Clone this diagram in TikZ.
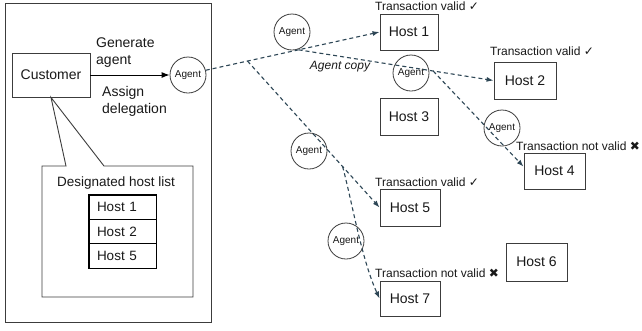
\documentclass[tikz,border=0pt]{standalone}
\usepackage{fontspec}
\setmainfont{Liberation Sans}
\newfontfamily\symfont{DejaVu Sans}
\usetikzlibrary{calc,arrows.meta}
\definecolor{boxc}{RGB}{60,60,60}
\definecolor{dashc}{RGB}{45,70,85}
\definecolor{txt}{RGB}{25,25,25}
\begin{document}
\begin{tikzpicture}[x=1pt,y=-1pt,
  hostbox/.style={draw=boxc, line width=0.9pt, minimum height=36pt, inner sep=0pt, font=\fontsize{14}{16}\selectfont, text=txt},
  agentnode/.style={circle, draw=boxc, line width=0.8pt, minimum size=36pt, inner sep=0pt, font=\fontsize{10}{12}\selectfont, text=txt},
  flow/.style={dashc, line width=1.1pt, dash pattern=on 4pt off 3pt, -{Latex[length=7pt,width=5pt]}},
  status/.style={font=\fontsize{12}{14}\selectfont, text=txt, anchor=west, inner sep=0pt},
  lbl/.style={font=\fontsize{14}{17}\selectfont, text=txt, align=left, anchor=west, inner sep=0pt},
  tcell/.style={draw=black, line width=0.9pt, minimum width=67pt, minimum height=24.33pt, inner xsep=8pt, inner ysep=0pt, text width=51pt, align=left, font=\fontsize{13.5}{16}\selectfont, text=txt}
]
\useasboundingbox (0,0) rectangle (642,330);
\fill[white] (0,0) rectangle (642,330);

% customer container
\draw[boxc, line width=1pt] (5,3) rectangle (211,322);
\node[hostbox, minimum width=78pt, minimum height=44pt] (cust) at (51,75) {Customer};
\node[agentnode] (agentA) at (188,75) {Agent};
\draw[black, line width=1pt, -{Latex[length=8pt,width=6pt]}] (cust) -- (agentA);
\node[lbl] (gen) at (96,53) {Generate\\agent};
\node[lbl] (asg) at (102,101) {Assign\\delegation};

% callout with designated host list
\draw[boxc, line width=0.9pt] (66,166) -- (cust.south) -- (104,166) -- (193,166) -- (193,297) -- (42,297) -- (42,166) -- cycle;
\node[font=\fontsize{13.5}{16}\selectfont, text=txt] (dhl) at (116,183) {Designated host list};
\node[tcell] (t1) at (122.5,207.2) {Host 1};
\node[tcell] (t2) at (122.5,231.5) {Host 2};
\node[tcell] (t3) at (122.5,255.8) {Host 5};
\draw[black, line width=1.8pt] (t1.north west) rectangle (t3.south east);

% hosts
\node[hostbox, minimum width=58pt] (host1) at (409,32) {Host 1};
\node[hostbox, minimum width=62pt, minimum height=37pt] (host2) at (525,80.5) {Host 2};
\node[hostbox, minimum width=58pt, minimum height=37pt] (host3) at (409,116.5) {Host 3};
\node[hostbox, minimum width=61pt] (host4) at (554.5,171) {Host 4};
\node[hostbox, minimum width=60pt, minimum height=37pt] (host5) at (410,207.5) {Host 5};
\node[hostbox, minimum width=61pt, minimum height=38pt] (host6) at (536.5,262) {Host 6};
\node[hostbox, minimum width=60pt, minimum height=35pt] (host7) at (410,298.5) {Host 7};

% status labels
\node[status] (s1) at (375,6) {Transaction valid {\symfont ✓}};
\node[status] (s2) at (490,51) {Transaction valid {\symfont ✓}};
\node[status] (s4) at (516,146) {Transaction not valid {\symfont ✖}};
\node[status] (s5) at (375,182) {Transaction valid {\symfont ✓}};
\node[status] (s7) at (375,273) {Transaction not valid {\symfont ✖}};

% agents along the routes
\node[agentnode] (agentB) at (292,32) {Agent};
\node[agentnode] (agentC) at (411,73) {Agent};
\node[agentnode] (agentD) at (502,128) {Agent};
\node[agentnode] (agentE) at (309,151) {Agent};
\node[agentnode] (agentF) at (346,241) {Agent};
\node[font=\fontsize{12}{14}\selectfont\itshape, text=txt] (copy) at (340,67) {Agent copy};

% routes
\draw[flow] (agentA.15) -- (host1.west);
\coordinate (b3) at ($(agentA.15)!0.24!(host1.west)$);
\coordinate (b1) at ($(agentA.15)!0.534!(host1.west)$);
\draw[flow] (b1) -- (host2.west);
\coordinate (b2) at ($(b1)!0.69!(host2.west)$);
\draw[flow] (b2) -- (host4.172);
\draw[flow] (b3) -- (host5.west);
\coordinate (b4) at ($(b3)!0.72!(host5.west)$);
\draw[flow] (b4) .. controls ($(b4)+(9,33)$) and ($(b4)+(19,93)$) .. (host7.west);
\end{tikzpicture}
\end{document}
